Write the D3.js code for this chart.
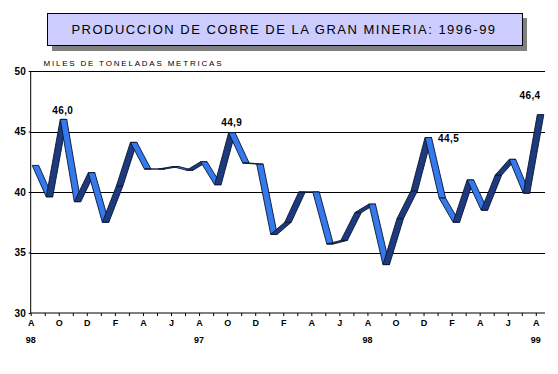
<!DOCTYPE html>
<html>
<head>
<meta charset="utf-8">
<script src="https://cdn.jsdelivr.net/npm/d3@7"></script>
<style>
body { margin: 0; background: #fff; }
svg { display: block; }
text { font-family: "Liberation Sans", Arial, sans-serif; }
</style>
</head>
<body>
<svg width="558" height="374"></svg>
<script>
// iniciales de cada mes, ago 96 .. ago 99
const months = ["A","S","O","N","D","E","F","M","A","M","J","J",
    "A","S","O","N","D","E","F","M","A","M","J","J",
    "A","S","O","N","D","E","F","M","A","M","J","J","A"];
// miles de toneladas metricas
const produccion = [42.2, 39.6, 46.0, 39.2, 41.6, 37.5, 40.5, 44.1, 41.9, 41.9, 42.1, 41.8,
    42.5, 40.6, 44.9, 42.4, 42.3, 36.5, 37.5, 40.0, 40.0, 35.7, 36.0, 38.3,
    39.0, 34.0, 37.8, 40.1, 44.5, 39.5, 37.5, 41.0, 38.5, 41.4, 42.7, 39.9, 46.4];
const yearIdx = [0, 12, 24, 36];
const yearText = ["98", "97", "98", "99"];
const labelIdx = [2, 14, 28, 36];
const yTicks = [30, 35, 40, 45, 50];

const svg = d3.select("svg");

const x = d3.scaleLinear().domain([0, 36]).range([30.7, 535.8]);
const y = d3.scaleLinear().domain([30, 50]).range([313, 71]);
const depth = 6.5, shift = 1.5;

// titulo
svg.append("rect").attr("x", 52).attr("y", 18).attr("width", 475).attr("height", 33)
    .attr("fill", "#808080");
svg.append("rect").attr("x", 47.5).attr("y", 13.5).attr("width", 475).attr("height", 32)
    .attr("fill", "#ccccff").attr("stroke", "#000").attr("stroke-width", 1);
svg.append("text").attr("x", 284).attr("y", 34).attr("text-anchor", "middle")
    .attr("font-size", 13).attr("letter-spacing", 1.5)
    .text("PRODUCCION DE COBRE DE LA GRAN MINERIA: 1996-99");

svg.append("text").attr("x", 43.5).attr("y", 66)
    .attr("font-size", 8).attr("letter-spacing", 1.8)
    .text("MILES DE TONELADAS METRICAS");

// grilla
svg.append("g").selectAll("line").data(yTicks.slice(1)).join("line")
    .attr("x1", x(0)).attr("x2", 545)
    .attr("y1", d => Math.round(y(d)) + 0.5).attr("y2", d => Math.round(y(d)) + 0.5)
    .attr("stroke", "#000").attr("stroke-width", 1);

const yAxis = svg.append("g").attr("transform", `translate(${x(0)},0)`)
    .call(d3.axisLeft(y).tickValues(yTicks).tickSize(2).tickPadding(3));
yAxis.select(".domain").remove();
yAxis.append("line").attr("y1", y(50)).attr("y2", y(30)).attr("stroke", "#000");
yAxis.selectAll("text").attr("font-size", 10).attr("font-weight", "bold")
    .attr("fill", "#000").style("font-family", "Liberation Sans, Arial");

const xAxis = svg.append("g").attr("transform", `translate(0,${y(30)})`)
    .call(d3.axisBottom(x).tickValues(d3.range(0, 37)).tickSize(3).tickPadding(4)
        .tickFormat(i => i % 2 === 0 ? months[i] : ""));
xAxis.select(".domain").remove();
xAxis.append("line").attr("x1", x(0)).attr("x2", 545).attr("stroke", "#000");
xAxis.selectAll("text").attr("font-size", 9).attr("font-weight", "bold")
    .attr("fill", "#000").style("font-family", "Liberation Sans, Arial");

svg.append("g").selectAll("text").data(yearIdx).join("text")
    .attr("x", i => x(i)).attr("y", 343).attr("text-anchor", "middle")
    .attr("font-size", 9).attr("font-weight", "bold")
    .text((i, k) => yearText[k]);

// cinta 3D
const segs = d3.range(produccion.length - 1);
svg.append("g").selectAll("path").data(segs).join("path")
    .attr("d", i => {
        const x0 = x(i) + shift, x1 = x(i + 1) + shift;
        const y0 = y(produccion[i]), y1 = y(produccion[i + 1]);
        return `M${x0},${y0}L${x1},${y1}L${x1 + depth},${y1}L${x0 + depth},${y0}Z`;
    })
    .attr("fill", i => produccion[i + 1] > produccion[i] ? "#1d3a7e" : "#3579ec")
    .attr("stroke", "#0a1530").attr("stroke-width", 0.9).attr("stroke-linejoin", "round");

// etiquetas de valores
const fmt = v => d3.format(".1f")(v).replace(".", ",");
const lblDx = [4, 4.6, 14.5, -5.8];
const lblDy = [-5, -6.7, 4, -15.6];
const lblAnchor = ["middle", "middle", "start", "middle"];
svg.append("g").selectAll("text").data(labelIdx).join("text")
    .attr("x", (i, k) => x(i) + lblDx[k])
    .attr("y", (i, k) => y(produccion[i]) + lblDy[k])
    .attr("text-anchor", (i, k) => lblAnchor[k])
    .attr("font-size", 10).attr("font-weight", "bold").attr("letter-spacing", 0.4)
    .text(i => fmt(produccion[i]));
</script>
</body>
</html>
